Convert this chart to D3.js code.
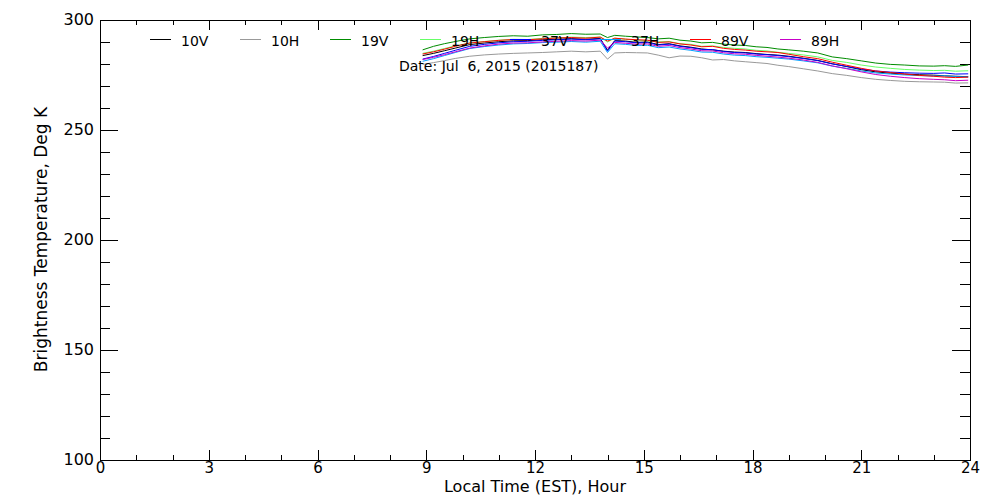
<!DOCTYPE html>
<html>

<head>
  <meta charset="utf-8">
  <script src="https://cdnjs.cloudflare.com/ajax/libs/d3/7.8.5/d3.min.js"></script>
  <style>
    body {
      margin: 0;
      padding: 0;
      background: #fff;
    }

    text {
      font-family: "DejaVu Sans", sans-serif;
      fill: #000;
    }

    .axis path,
    .axis line {
      stroke: #000;
      shape-rendering: crispEdges;
    }

    .line {
      fill: none;
      stroke-width: 1px;
    }
  </style>
</head>

<body>
  <svg width="1000" height="500"></svg>
  <script>
    //local time in hours
    let hours = [8.9, 9.2, 9.5, 9.8, 10.2, 10.6, 11.0, 11.4, 11.8, 12.2, 12.6, 13.0, 13.4, 13.8, 14.0, 14.2, 14.5, 14.8, 15.1, 15.4, 15.7, 16.0, 16.3, 16.6, 16.9, 17.2, 17.5, 17.8, 18.1, 18.4, 18.7, 19.0, 19.4, 19.8, 20.2, 20.6, 21.0, 21.4, 21.8, 22.2, 22.6, 23.0, 23.3, 23.6, 23.95];

    //brightness temperatures, K
    let tb10V = [283.6, 284.6, 285.8, 287, 288.6, 289.3, 289.9, 290.3, 290.4, 290.8, 291, 291.3, 291, 291.4, 286, 290.4, 290.2, 289.6, 289.8, 288.6, 289, 288, 287.4, 286.6, 286.2, 285.6, 285.2, 285, 284.5, 284.1, 283.8, 283.3, 282.4, 281.4, 279.9, 278.6, 277.2, 276.2, 275.6, 275.2, 274.9, 274.7, 274.4, 274.2, 274];
    let tb10H = [279.6, 280.4, 281.3, 282.3, 283.3, 283.9, 284.3, 284.6, 284.8, 285, 285.3, 285.6, 285.3, 285.6, 282, 284.8, 285, 284.9, 284.8, 283.8, 282.6, 283.4, 283.3, 282.6, 281.6, 281.8, 281.2, 280.8, 280.4, 280, 279.2, 278.6, 277.6, 276.6, 275.4, 274.6, 273.6, 272.8, 272.3, 271.9, 271.7, 271.6, 271.5, 271.1, 271.2];
    let tb19V = [286.2, 287.8, 289, 290, 291.2, 291.8, 292.3, 292.6, 292.4, 293, 293.2, 293.6, 293.3, 293.4, 291.8, 292.8, 292.4, 292.1, 291.8, 291.2, 291.5, 290.6, 290.2, 289.4, 289.6, 288.8, 288.4, 288.2, 287.6, 287.3, 286.6, 286.2, 285.6, 284.8, 283, 282.2, 281.2, 280.2, 279.6, 279.3, 278.9, 278.8, 279, 278.7, 279.3];
    let tb19H = [284.6, 285.6, 286.8, 288, 289.3, 290, 290.6, 291, 290.9, 291.4, 291.6, 292, 291.8, 292, 289.8, 291.5, 291, 290.6, 290.4, 289.8, 290, 289, 288.7, 287.8, 288, 287.3, 286.9, 286.6, 286, 285.7, 285.1, 284.6, 283.9, 283, 281.4, 280.5, 279.3, 278.4, 277.8, 277.3, 277, 276.8, 276.9, 276.5, 276.7];
    let tb37V = [282, 283.2, 284.6, 286, 287.8, 288.7, 289.4, 289.9, 290.1, 290.5, 290.8, 291.1, 290.8, 291.2, 285.6, 290.2, 289.9, 289.4, 289.5, 288.4, 288.8, 287.8, 287.2, 286.4, 286.3, 285.5, 285, 284.8, 284.3, 284, 283.6, 283.1, 282.3, 281.3, 279.8, 278.7, 277.5, 276.6, 276.1, 275.8, 275.6, 275.5, 275.7, 275.2, 275.3];
    let tb37H = [281, 282.2, 283.6, 285, 286.8, 287.7, 288.4, 288.9, 289.1, 289.5, 289.7, 290, 289.7, 290.1, 285, 289, 288.7, 288.2, 288.3, 287.2, 287.5, 286.6, 286, 285.2, 285.1, 284.3, 283.8, 283.6, 283.1, 282.8, 282.4, 282, 281.2, 280.3, 278.8, 277.8, 276.6, 275.7, 275.2, 274.8, 274.5, 274.3, 274.4, 274, 273.9];
    let tb89V = [284.3, 285.3, 286.5, 287.8, 289.3, 289.9, 290.5, 290.9, 290.8, 291.2, 291.6, 291.8, 291.5, 292, 290.2, 291.5, 291.1, 290.8, 290.6, 289.6, 289.8, 288.9, 288.4, 287.6, 287.8, 286.9, 286.4, 286.1, 285.6, 285.3, 285, 284.2, 283.1, 282.2, 280.6, 279.2, 277.8, 276.6, 275.9, 275.2, 274.6, 274.2, 273.8, 273.6, 273.8];
    let tb89H = [281.8, 282.8, 284, 285.3, 287, 288, 288.8, 289.3, 289.4, 289.8, 290.1, 290.4, 290.2, 290.6, 287, 289.6, 289.2, 288.8, 288.9, 287.8, 288.2, 287.2, 286.6, 285.8, 285.7, 284.9, 284.4, 284.2, 283.7, 283.3, 282.9, 282.4, 281.6, 280.5, 278.9, 277.6, 276.2, 275, 274.2, 273.6, 273.1, 272.8, 272.6, 272.2, 272.4];

    //channel names and colours
    let channels = ["10V", "10H", "19V", "19H", "37V", "37H", "89V", "89H"];
    let colors = ["#000000", "#999999", "#008c00", "#66ff66", "#0000ff", "#00a0ff", "#ff0000", "#c800c8"];
    let values = [tb10V, tb10H, tb19V, tb19H, tb37V, tb37H, tb89V, tb89H];

    //tick labels
    let xMajor = [0, 3, 6, 9, 12, 15, 18, 21, 24];
    let yMajor = [100, 150, 200, 250, 300];

    let dateText = "Date: Jul  6, 2015 (2015187)";

    let svg = d3.select("svg"),
      plotLeft = 100,
      plotRight = 970,
      plotTop = 19.5,
      plotBottom = 459.5;

    //define scales
    let x = d3.scaleLinear().domain([0, 24]).range([plotLeft, plotRight]),
      y = d3.scaleLinear().domain([100, 300]).range([plotBottom, plotTop]);

    let xMinor = d3.range(0, 25, 1).filter(function(d) { return xMajor.indexOf(d) < 0; });
    let yMinor = d3.range(100, 301, 10).filter(function(d) { return yMajor.indexOf(d) < 0; });

    //bottom axis with labels, ticks pointing in
    svg.append("g")
      .attr("class", "axis")
      .attr("transform", "translate(0," + plotBottom + ")")
      .call(d3.axisBottom(x).tickValues(xMajor).tickSize(-10).tickPadding(3).tickSizeOuter(0))
      .call(function(g) { g.selectAll("text").style("font-size", "15px"); });
    svg.append("g")
      .attr("class", "axis")
      .attr("transform", "translate(0," + plotBottom + ")")
      .call(d3.axisBottom(x).tickValues(xMinor).tickSize(-5).tickFormat("").tickSizeOuter(0))
      .call(function(g) { g.select(".domain").remove(); });

    //top axis, mirrored
    svg.append("g")
      .attr("class", "axis")
      .attr("transform", "translate(0," + plotTop + ")")
      .call(d3.axisTop(x).tickValues(xMajor).tickSize(-10).tickFormat("").tickSizeOuter(0));
    svg.append("g")
      .attr("class", "axis")
      .attr("transform", "translate(0," + plotTop + ")")
      .call(d3.axisTop(x).tickValues(xMinor).tickSize(-5).tickFormat("").tickSizeOuter(0))
      .call(function(g) { g.select(".domain").remove(); });

    //left axis with labels
    svg.append("g")
      .attr("class", "axis")
      .attr("transform", "translate(" + plotLeft + ",0)")
      .call(d3.axisLeft(y).tickValues(yMajor).tickSize(-18).tickPadding(6).tickSizeOuter(0))
      .call(function(g) { g.selectAll("text").style("font-size", "16px"); });
    svg.append("g")
      .attr("class", "axis")
      .attr("transform", "translate(" + plotLeft + ",0)")
      .call(d3.axisLeft(y).tickValues(yMinor).tickSize(-10).tickFormat("").tickSizeOuter(0))
      .call(function(g) { g.select(".domain").remove(); });

    //right axis, mirrored
    svg.append("g")
      .attr("class", "axis")
      .attr("transform", "translate(" + plotRight + ",0)")
      .call(d3.axisRight(y).tickValues(yMajor).tickSize(-18).tickFormat("").tickSizeOuter(0));
    svg.append("g")
      .attr("class", "axis")
      .attr("transform", "translate(" + plotRight + ",0)")
      .call(d3.axisRight(y).tickValues(yMinor).tickSize(-10).tickFormat("").tickSizeOuter(0))
      .call(function(g) { g.select(".domain").remove(); });

    //axis titles
    svg.append("text")
      .attr("x", (plotLeft + plotRight) / 2)
      .attr("y", 492)
      .attr("text-anchor", "middle")
      .style("font-size", "16px")
      .text("Local Time (EST), Hour");

    svg.append("text")
      .attr("transform", "translate(47," + (plotTop + plotBottom) / 2 + ") rotate(-90)")
      .attr("text-anchor", "middle")
      .style("font-size", "17px")
      .text("Brightness Temperature, Deg K");

    //line generator
    let line = d3.line()
      .x(function(d) { return x(d.h); })
      .y(function(d) { return y(d.t); });

    let series = channels.map(function(id, i) {
      return {
        id: id,
        color: colors[i],
        values: hours.map(function(h, j) { return { h: h, t: values[i][j] }; })
      };
    });

    svg.selectAll(".line")
      .data(series)
      .enter()
      .append("path")
      .attr("class", "line")
      .attr("d", function(d) { return line(d.values); })
      .style("stroke", function(d) { return d.color; });

    //legend along the top
    let legend = svg.selectAll(".legend")
      .data(series)
      .enter()
      .append("g")
      .attr("class", "legend")
      .attr("transform", function(d, i) { return "translate(" + (150 + i * 90) + ",0)"; });

    legend.append("line")
      .attr("x1", 0)
      .attr("x2", 21)
      .attr("y1", 39.5)
      .attr("y2", 39.5)
      .style("stroke", function(d) { return d.color; })
      .style("stroke-width", 1);

    legend.append("text")
      .attr("x", 31)
      .attr("y", 46)
      .style("font-size", "14px")
      .text(function(d) { return d.id; });

    //date note
    svg.append("text")
      .attr("x", 399)
      .attr("y", 71)
      .style("font-size", "14px")
      .style("white-space", "pre")
      .text(dateText);
  </script>
</body>

</html>
